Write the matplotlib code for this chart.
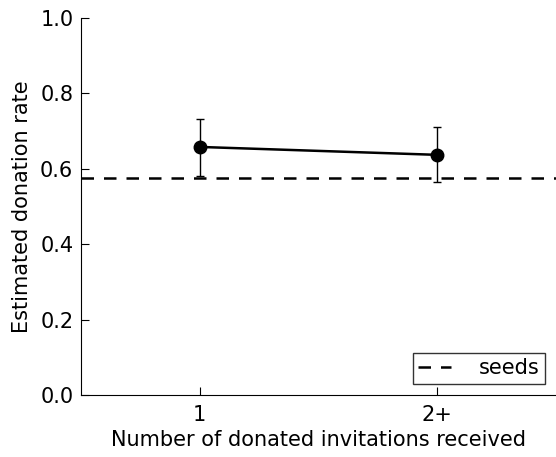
import matplotlib
matplotlib.use('Agg')
import matplotlib.pyplot as plt
import numpy as np

# Estimated donation rate by number of donated invitations received.
groups = ['1', '2+']
rates = [0.658, 0.637]
ci_low = [0.580, 0.565]
ci_high = [0.732, 0.711]
seed_rate = 0.576

plt.rcParams['font.size'] = 15

fig = plt.figure(figsize=(5.56, 4.57), dpi=100)
ax = fig.add_axes([81/556, 1 - 395/457, 475/556, 377/457])

x = np.arange(len(groups))
r = np.array(rates)
yerr = np.array([r - np.array(ci_low), np.array(ci_high) - r])
ax.errorbar(x, r, yerr=yerr, color='k', lw=1.8, marker='o', ms=9,
            elinewidth=1, capsize=3, capthick=1)
ax.axhline(seed_rate, color='k', ls='--', lw=1.8, dashes=(5, 4), label='seeds')

ax.set_xlim(-0.5, 1.5)
ax.set_ylim(0, 1)
ax.set_xticks(x)
ax.set_xticklabels(groups)
ax.set_yticks(np.arange(0, 1.01, 0.2))
ax.tick_params(direction='in', length=6)
ax.tick_params(axis='x', pad=7)
ax.tick_params(axis='y', pad=5.5)
ax.spines['top'].set_visible(False)
ax.spines['right'].set_visible(False)
ax.set_xlabel('Number of donated invitations received', labelpad=4)
ax.set_ylabel('Estimated donation rate', labelpad=6)

leg = ax.legend(loc='lower right', fancybox=False, edgecolor='k',
                handlelength=1.6, handletextpad=1.3, borderpad=0.25,
                borderaxespad=0.55)
leg.get_frame().set_linewidth(1)

fig.savefig('out.png', dpi=100)
